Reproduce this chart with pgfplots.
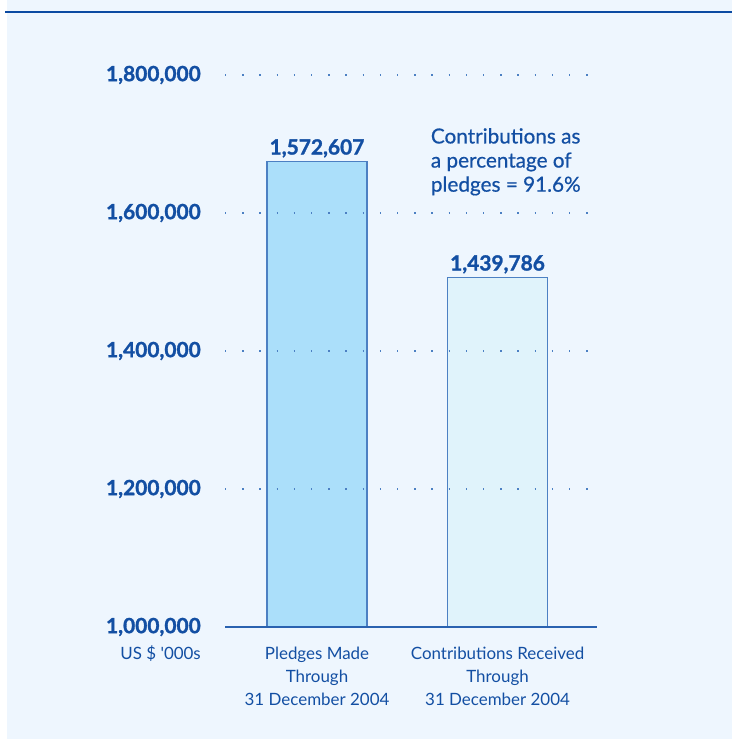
\documentclass[border=0pt]{standalone}
\usepackage{pgfplots}
\pgfplotsset{compat=1.18}
\usepackage{fontspec}
\setmainfont{Lato}
\definecolor{bg}{HTML}{EEF6FE}
\definecolor{topline}{HTML}{0B4AA2}
\definecolor{txt}{HTML}{134FA3}
\definecolor{barone}{HTML}{ABDFFA}
\definecolor{bartwo}{HTML}{E0F3FB}
\definecolor{baredge}{HTML}{4C80C3}
\definecolor{axc}{HTML}{2A62B0}
\definecolor{gridc}{HTML}{4C80C3}
\newcommand{\heavy}{\fontsize{21}{24}\selectfont\bfseries\addfontfeatures{FakeBold=1.3}}
\begin{document}
\begin{tikzpicture}[x=1bp,y=1bp]
\path[use as bounding box] (0,0) rectangle (732,740);
\fill[bg] (7,1) rectangle (732,740);
\draw[topline, line width=2bp] (5,727.5) -- (732,727.5);
\begin{axis}[
  at={(225bp,113bp)}, anchor=south west,
  scale only axis, width=372bp, height=552bp,
  xmin=-0.5097, xmax=1.551,
  ymin=1000000, ymax=1800000,
  ytick={1000000,1200000,1400000,1600000,1800000},
  scaled y ticks=false,
  /pgf/number format/fixed,
  /pgf/number format/1000 sep={,},
  /pgf/number format/assume math mode=true,
  yticklabel style={anchor=east, inner sep=0pt, xshift=-24bp, font=\heavy, text=txt},
  xtick={0,1},
  xticklabels={{Pledges Made\\Through\\31 December 2004},{Contributions Received\\Through\\31 December 2004}},
  xticklabel style={align=center, font=\fontsize{17}{23}\selectfont, text=txt, anchor=north, inner sep=0pt, yshift=-20bp},
  major tick length=0pt,
  axis x line*=bottom, axis y line*=left,
  x axis line style={draw=axc, line width=1.5bp, -},
  y axis line style={draw=none},
  ymajorgrids,
  grid style={draw=gridc, line width=1.5bp, dash pattern=on 1.4bp off 15.8bp, line cap=butt},
  axis on top,
  ybar, bar width=100bp, bar shift=0pt,
  nodes near coords style={anchor=base, inner sep=0pt, yshift=7bp, font=\heavy, text=txt},
  clip=false,
]
\addplot[fill=barone, draw=baredge, line width=1.5bp, nodes near coords={1,572,607}] coordinates {(0,1674600)};
\addplot[fill=bartwo, draw=baredge, line width=1.5bp, nodes near coords={1,439,786}] coordinates {(1,1506500)};
\end{axis}
\node[anchor=base east, inner sep=0pt, text=txt, font=\fontsize{17}{23}\selectfont] at (201,80) {US \$ \textquotesingle 000s};
\node[anchor=north west, inner sep=0pt, text=txt, align=left, font=\fontsize{20.8}{24.2}\selectfont\addfontfeatures{FakeBold=0.6}] at (430.7,612) {Contributions as\\a percentage of\\pledges = 91.6\%};
\end{tikzpicture}
\end{document}
